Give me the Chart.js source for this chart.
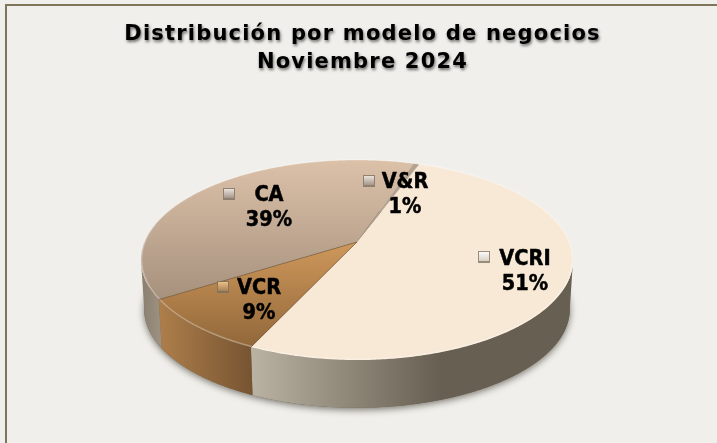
<!DOCTYPE html>
<html><head><meta charset="utf-8">
<style>html,body{margin:0;padding:0;background:#fff}canvas{display:block}</style>
<script src="https://cdn.jsdelivr.net/npm/chart.js@4"></script>
</head><body><canvas id="c" width="717" height="443"></canvas>
<script>
const titleLines = ['Distribución por modelo de negocios', 'Noviembre 2024'];
const categories = ['VCRI', 'VCR', 'CA', 'V&R'];
const values = [51.3, 9.1, 39.1, 0.5];

const view = {k:0.18, rx:212.5, y0:242, b:96.8, depth:49.5, bottomScale:0.985};
const labelFont = 'bold 21.5px "DejaVu Sans Condensed","DejaVu Sans"';
const labelAnchors = [
  {key:[478,251], x:525, y:259.5},
  {key:[217,281], x:259, y:288.5},
  {key:[223,188], x:269, y:195.5},
  {key:[363,175], x:405, y:182.5}
];
const keyTints = [['#ffffff','#cfc8b8'],['#f4c68a','#94744c'],['#f2ebe3','#95857a'],['#f2ebe3','#95857a']];

function project(cx,a,drop,s){
  const u=Math.cos(a),v=Math.sin(a),w=1-view.k*v;
  return [cx+view.rx*s*u/w, view.y0+view.b*s*v/w+drop];
}
function rimPath(ctx,cx,s,e,drop,sc,forward){
  const n=Math.max(2,Math.ceil((e-s)/0.01));
  for(let i=0;i<=n;i++){
    const t=forward?i/n:1-i/n, p=project(cx,s+(e-s)*t,drop,sc);
    ctx.lineTo(p[0],p[1]);
  }
}
function grad(ctx,x0,y0,x1,y1,stops){
  const g=ctx.createLinearGradient(x0,y0,x1,y1);
  stops.forEach(s=>g.addColorStop(s[0],s[1]));
  return g;
}
const pie3d={
  id:'pie3d',
  beforeDraw(chart){
    const c=chart.ctx;
    c.save();
    c.fillStyle='#f0efeb';c.fillRect(0,0,717,443);
    c.fillStyle='#7f7558';c.fillRect(5,4,712,2);c.fillRect(5,4,2,439);
    c.restore();
    c.save();
    c.translate(5.5,0);
    c.letterSpacing='1.2px';
    c.shadowColor='rgba(0,0,0,0.55)';c.shadowBlur=3;c.shadowOffsetX=1;c.shadowOffsetY=2;
  },
  beforeDatasetsDraw(chart){
    chart.ctx.restore();
  },
  beforeDatasetDraw(chart){
    const c=chart.ctx, arcs=chart.getDatasetMeta(0).data, cx=arcs[0].x;
    const lo=Math.asin(view.k), hi=Math.PI-lo, d=view.depth, sc=view.bottomScale;
    c.save();
    c.save();
    c.shadowColor='rgba(40,35,25,0.6)';c.shadowBlur=7;c.shadowOffsetX=0;c.shadowOffsetY=2;
    c.fillStyle='#6a6355';
    c.beginPath();
    rimPath(c,cx,0,Math.PI*2,d,sc,true);
    c.closePath();c.fill();
    c.restore();
    const walls=[
      grad(c,252,0,440,0,[[0,'#bab3a3'],[0.45,'#948d7e'],[1,'#676052']]),
      grad(c,160,0,252,0,[[0,'#ad7e4a'],[1,'#775432']]),
      grad(c,142,0,165,0,[[0,'#8b8070'],[1,'#a19686']]),
      '#8b8070'
    ];
    arcs.forEach((arc,i)=>{
      const s=Math.max(arc.startAngle,lo), e=Math.min(arc.endAngle,hi);
      if(e<=s) return;
      c.fillStyle=walls[i];
      c.beginPath();
      rimPath(c,cx,s,e,0,1,true);
      rimPath(c,cx,s,e,d,sc,false);
      c.closePath();c.fill();
    });
    const tops=[
      '#f8e9d6',
      grad(c,0,242,0,346,[[0,'#cf985b'],[1,'#92683a']]),
      grad(c,0,160,0,300,[[0,'#dcc1a9'],[1,'#a6917d']]),
      '#b5a392'
    ];
    arcs.forEach((arc,i)=>{
      c.fillStyle=tops[i];
      c.beginPath();
      c.moveTo(cx,view.y0);
      rimPath(c,cx,arc.startAngle,arc.endAngle,0,1,true);
      c.closePath();c.fill();
    });
    c.lineWidth=1.5;
    c.strokeStyle='rgba(255,255,255,0.3)';
    c.beginPath();
    rimPath(c,cx,arcs[0].startAngle,arcs[0].startAngle+Math.PI*2,-0.5,0.997,true);
    c.stroke();
    c.lineWidth=1;
    c.strokeStyle='rgba(110,80,50,0.55)';
    c.beginPath();
    const pA=project(cx,arcs[1].startAngle,0,1);
    c.moveTo(cx,view.y0);c.lineTo(pA[0],pA[1]);
    const pB=project(cx,arcs[1].endAngle,0,1);
    c.moveTo(cx,view.y0);c.lineTo(pB[0],pB[1]);
    c.stroke();
    c.restore();
    return false;
  },
  afterDatasetsDraw(chart){
    const c=chart.ctx;
    c.save();
    c.textAlign='center';c.textBaseline='middle';
    c.font=labelFont;
    c.lineWidth=0.5;c.strokeStyle='#000';c.lineJoin='round';
    categories.forEach((name,i)=>{
      const a=labelAnchors[i];
      const [kx,ky]=a.key;
      c.fillStyle='rgba(120,110,95,0.75)';c.fillRect(kx,ky,12,12);
      c.fillStyle=grad(c,kx,ky,kx,ky+12,[[0,keyTints[i][0]],[1,keyTints[i][1]]]);
      c.fillRect(kx+1,ky+1,10,9);
      c.fillStyle='#000';
      const pct=Math.round(values[i])+'%';
      c.fillText(name,a.x,a.y);c.strokeText(name,a.x,a.y);
      c.fillText(pct,a.x,a.y+24.5);c.strokeText(pct,a.x,a.y+24.5);
    });
    c.restore();
  }
};
new Chart(document.getElementById('c'),{
  type:'pie',
  data:{labels:categories,datasets:[{data:values,borderWidth:0}]},
  plugins:[pie3d],
  options:{
    responsive:false,animation:false,rotation:20,
    layout:{padding:{left:0,right:3,top:0,bottom:0}},
    plugins:{
      legend:{display:false},tooltip:{enabled:false},
      title:{display:true,text:titleLines,color:'#000',
        font:{family:'"DejaVu Sans"',size:21,weight:'bold',lineHeight:1.333},
        padding:{top:21,bottom:10}}
    }
  }
});
</script></body></html>
